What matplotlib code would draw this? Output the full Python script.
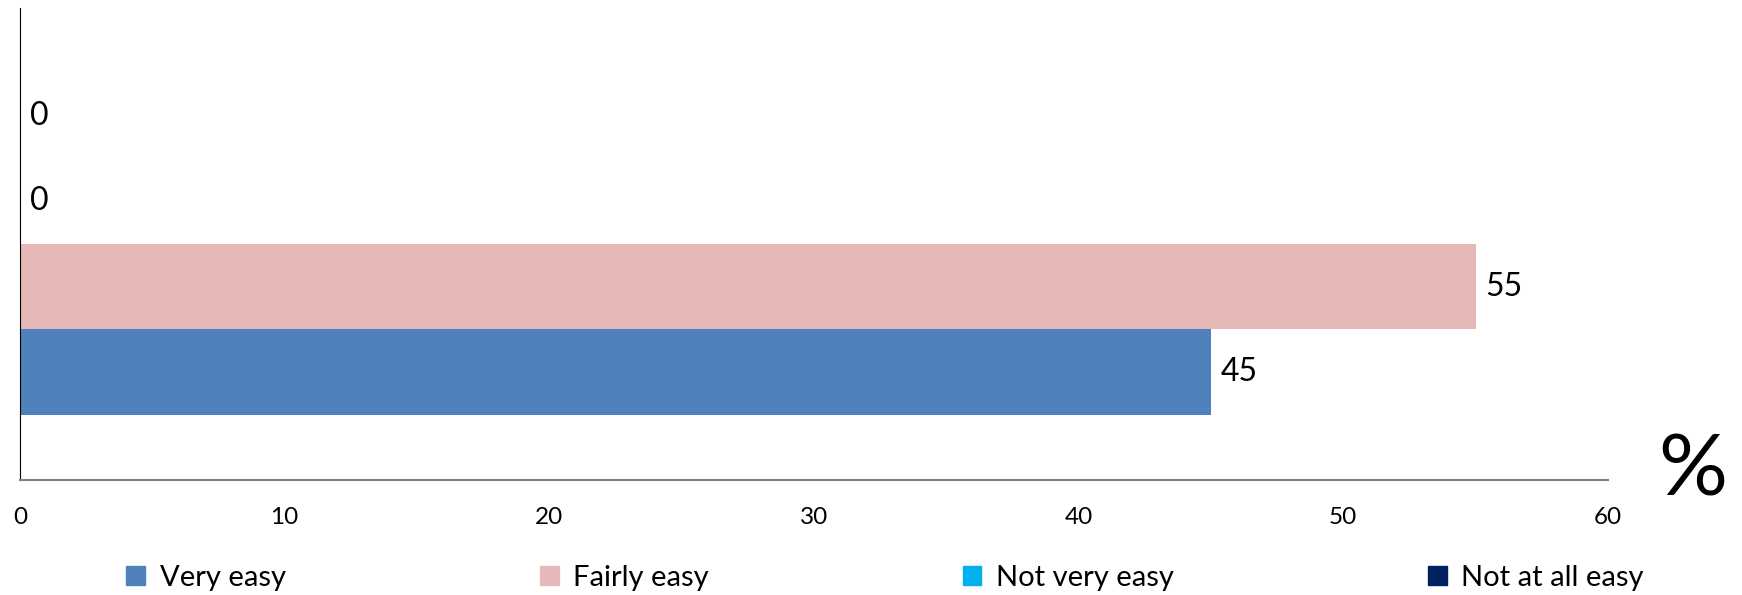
import matplotlib.pyplot as plt
from matplotlib.patches import Patch

# answers, bottom to top as drawn
series = ['Very easy', 'Fairly easy', 'Not very easy', 'Not at all easy']
values = [45, 55, 0, 0]
colors = ['#4F81BD', '#E6B9B8', '#00B0F0', '#002060']
xticks = [0, 10, 20, 30, 40, 50, 60]

plt.rcParams['font.family'] = ['Lato', 'DejaVu Sans']

fig = plt.figure(figsize=(17.42, 5.95), dpi=100)
ax = fig.add_axes([0.0115, 0.193, 0.9115, 0.7936])

pos = list(range(len(series)))
bars = ax.barh(pos, values, height=1.0, color=colors)
ax.bar_label(bars, padding=7, fontsize=23)

ax.set_xlim(0, 60)
ax.set_ylim(-1.27, 4.27)
ax.set_xticks(xticks)
ax.set_xticklabels([str(t) for t in xticks], fontsize=17.5)
ax.set_yticks([])
ax.tick_params(axis='x', length=0, pad=19)

for s in ['top', 'right']:
    ax.spines[s].set_visible(False)
ax.spines['left'].set_color('black')
ax.spines['bottom'].set_color('#808080')
ax.spines['bottom'].set_linewidth(1.5)

fig.text(0.972, 0.207, '%', fontsize=62, ha='center', va='center')

handles = [Patch(color=c, label=s) for c, s in zip(colors, series)]
fig.legend(handles=handles, loc='center left', bbox_to_anchor=(0.0725, 0.029),
           ncol=4, frameon=False, fontsize=21, borderpad=0, borderaxespad=0,
           handlelength=0.65, handleheight=0.65, handletextpad=0.5,
           columnspacing=8.7)

fig.savefig('out.png', dpi=100)
